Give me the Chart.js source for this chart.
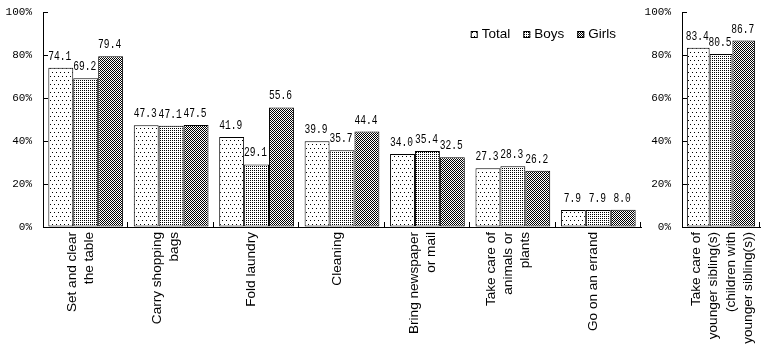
<!DOCTYPE html>
<html>
<head>
<meta charset="utf-8">
<script src="https://cdn.jsdelivr.net/npm/chart.js@4"></script>
<style>
  html, body { margin: 0; padding: 0; background: #fff; }
  #wrap { position: relative; width: 764px; height: 348px; }
  #mainBox { position: absolute; left: 0; top: 0; width: 644px; height: 348px; }
  #sideBox { position: absolute; left: 640px; top: 0; width: 124px; height: 348px; }
</style>
</head>
<body>
<div id="wrap">
  <div id="mainBox"><canvas id="mainChart"></canvas></div>
  <div id="sideBox"><canvas id="sideChart"></canvas></div>
</div>
<script>
var categories = [
  ['Set and clear', 'the table'],
  ['Carry shopping', 'bags'],
  ['Fold laundry'],
  ['Cleaning'],
  ['Bring newspaper', 'or mail'],
  ['Take care of', 'animals or', 'plants'],
  ['Go on an errand']
];
var totalValues = [74.1, 47.3, 41.9, 39.9, 34.0, 27.3, 7.9];
var boysValues = [69.2, 47.1, 29.1, 35.7, 35.4, 28.3, 7.9];
var girlsValues = [79.4, 47.5, 55.6, 44.4, 32.5, 26.2, 8.0];

var siblingCategory = [['Take care of', 'younger sibling(s)', '(children with', 'younger sibling(s))']];
var siblingTotal = [83.4];
var siblingBoys = [80.5];
var siblingGirls = [86.7];

var seriesNames = ['Total', 'Boys', 'Girls'];
var yTicks = [0, 20, 40, 60, 80, 100];

// small bitmap fills like the old office patterns
function makePattern(w, h, dots) {
  var c = document.createElement('canvas');
  c.width = w;
  c.height = h;
  var g = c.getContext('2d');
  g.fillStyle = '#fff';
  g.fillRect(0, 0, w, h);
  g.fillStyle = '#000';
  dots.forEach(function (d) { g.fillRect(d[0], d[1], 1, 1); });
  return g.createPattern(c, 'repeat');
}
var sparseDots = makePattern(4, 8, [[0, 0], [2, 4]]);
var denseDots = makePattern(2, 2, [[0, 0]]);
var checker = makePattern(2, 2, [[0, 0], [1, 1]]);
var fills = [sparseDots, denseDots, checker];

var monoFamily = '"Liberation Mono", "DejaVu Sans Mono", monospace';
var monoFont = { family: monoFamily, size: 11 };
var sansFamily = '"Liberation Sans", Arial, sans-serif';

// value above each bar (narrowed mono, like the old bitmap font)
var valueLabels = {
  id: 'valueLabels',
  afterDatasetsDraw: function (chart) {
    var ctx = chart.ctx;
    ctx.save();
    ctx.font = '12px ' + monoFamily;
    ctx.fillStyle = '#000';
    ctx.textAlign = 'center';
    ctx.textBaseline = 'alphabetic';
    chart.data.datasets.forEach(function (ds, i) {
      chart.getDatasetMeta(i).data.forEach(function (bar, j) {
        ctx.save();
        ctx.translate(bar.x - 1, bar.y - 8);
        ctx.scale(0.8, 1);
        ctx.fillText(ds.data[j].toFixed(1), 0, 0);
        ctx.restore();
      });
    });
    ctx.restore();
  }
};

// short tick marks pointing into the plot
var innerTicks = {
  id: 'innerTicks',
  afterDraw: function (chart) {
    var ctx = chart.ctx;
    var area = chart.chartArea;
    var y = chart.scales.y;
    ctx.save();
    ctx.strokeStyle = '#000';
    ctx.lineWidth = 1;
    ctx.beginPath();
    yTicks.forEach(function (v) {
      var py = Math.round(y.getPixelForValue(v)) + 0.5;
      ctx.moveTo(area.left, py);
      ctx.lineTo(area.left + 5, py);
    });
    var n = chart.data.labels.length;
    var step = (area.right - area.left) / n;
    for (var i = 1; i <= n; i++) {
      var px = Math.round(area.left + step * i) - 0.5;
      ctx.moveTo(px, area.bottom);
      ctx.lineTo(px, area.bottom - 5);
    }
    ctx.stroke();
    ctx.restore();
  }
};

// vertical category names, lines centred on the group
var categoryNames = {
  id: 'categoryNames',
  afterDraw: function (chart, args, opts) {
    var ctx = chart.ctx;
    var x = chart.scales.x;
    var top = chart.chartArea.bottom + 5;
    var lineGap = opts.lineGap || 17;
    var shift = opts.shift || 0;
    ctx.save();
    ctx.font = '13.6px ' + sansFamily;
    ctx.fillStyle = '#000';
    ctx.textAlign = 'right';
    ctx.textBaseline = 'middle';
    chart.data.labels.forEach(function (lines, i) {
      var cx = x.getPixelForTick(i) + shift;
      lines.forEach(function (line, k) {
        var lx = cx + (k - (lines.length - 1) / 2) * lineGap;
        ctx.save();
        ctx.translate(lx, top);
        ctx.rotate(-Math.PI / 2);
        ctx.fillText(line, 0, 0);
        ctx.restore();
      });
    });
    ctx.restore();
  }
};

// legend inside the plot, upper right
var boxLegend = {
  id: 'boxLegend',
  afterDraw: function (chart) {
    var ctx = chart.ctx;
    var area = chart.chartArea;
    var box = 7, gap = 4, spacing = 13;
    ctx.save();
    ctx.font = '13.5px ' + sansFamily;
    var widths = chart.data.datasets.map(function (ds) {
      return box + gap + ctx.measureText(ds.label).width;
    });
    var total = widths.reduce(function (a, b) { return a + b; }, 0) + spacing * (widths.length - 1);
    var x = area.right - 25 - total;
    var cy = area.top + 22;
    ctx.textBaseline = 'middle';
    ctx.textAlign = 'left';
    chart.data.datasets.forEach(function (ds, i) {
      ctx.fillStyle = ds.backgroundColor;
      ctx.fillRect(x, cy - 3, box, box);
      ctx.strokeStyle = '#000';
      ctx.lineWidth = 1;
      ctx.strokeRect(x + 0.5, cy - 3 + 0.5, box - 1, box - 1);
      ctx.fillStyle = '#000';
      ctx.fillText(ds.label, x + box + gap, cy);
      x += widths[i] + spacing;
    });
    ctx.restore();
  }
};

function buildDatasets(lists) {
  return lists.map(function (vals, i) {
    return {
      label: seriesNames[i],
      data: vals,
      backgroundColor: fills[i],
      borderColor: '#000',
      borderWidth: 1,
      borderSkipped: false,
      categoryPercentage: 0.875,
      barPercentage: 1
    };
  });
}

function buildOptions(yWidth, labelShift, labelGap) {
  return {
    responsive: true,
    maintainAspectRatio: false,
    animation: false,
    layout: { padding: { top: 12, right: 3, left: 0, bottom: 0 } },
    plugins: {
      tooltip: { enabled: false },
      legend: { display: false },
      categoryNames: { shift: labelShift, lineGap: labelGap }
    },
    scales: {
      x: {
        grid: { display: true, drawOnChartArea: false, drawTicks: false },
        border: { color: '#000', width: 1 },
        ticks: { display: false },
        afterFit: function (scale) {
          scale.height = 121;
          scale.paddingLeft = 0;
          scale.paddingRight = 0;
        }
      },
      y: {
        min: 0,
        max: 100,
        grid: { display: true, drawOnChartArea: false, drawTicks: false },
        border: { color: '#000', width: 1 },
        ticks: {
          stepSize: 20,
          padding: 11,
          color: '#000',
          font: monoFont,
          callback: function (v) { return v + '%'; }
        },
        afterFit: function (scale) {
          scale.width = yWidth;
          scale.paddingTop = 0;
          scale.paddingBottom = 0;
        }
      }
    }
  };
}

new Chart(document.getElementById('mainChart'), {
  type: 'bar',
  data: {
    labels: categories,
    datasets: buildDatasets([totalValues, boysValues, girlsValues])
  },
  options: buildOptions(43, -5, 17),
  plugins: [valueLabels, innerTicks, categoryNames, boxLegend]
});

var sideOptions = buildOptions(42, 1, 17.5);
sideOptions.layout.padding.right = 4;
new Chart(document.getElementById('sideChart'), {
  type: 'bar',
  data: {
    labels: siblingCategory,
    datasets: buildDatasets([siblingTotal, siblingBoys, siblingGirls])
  },
  options: sideOptions,
  plugins: [valueLabels, innerTicks, categoryNames]
});
</script>
</body>
</html>
